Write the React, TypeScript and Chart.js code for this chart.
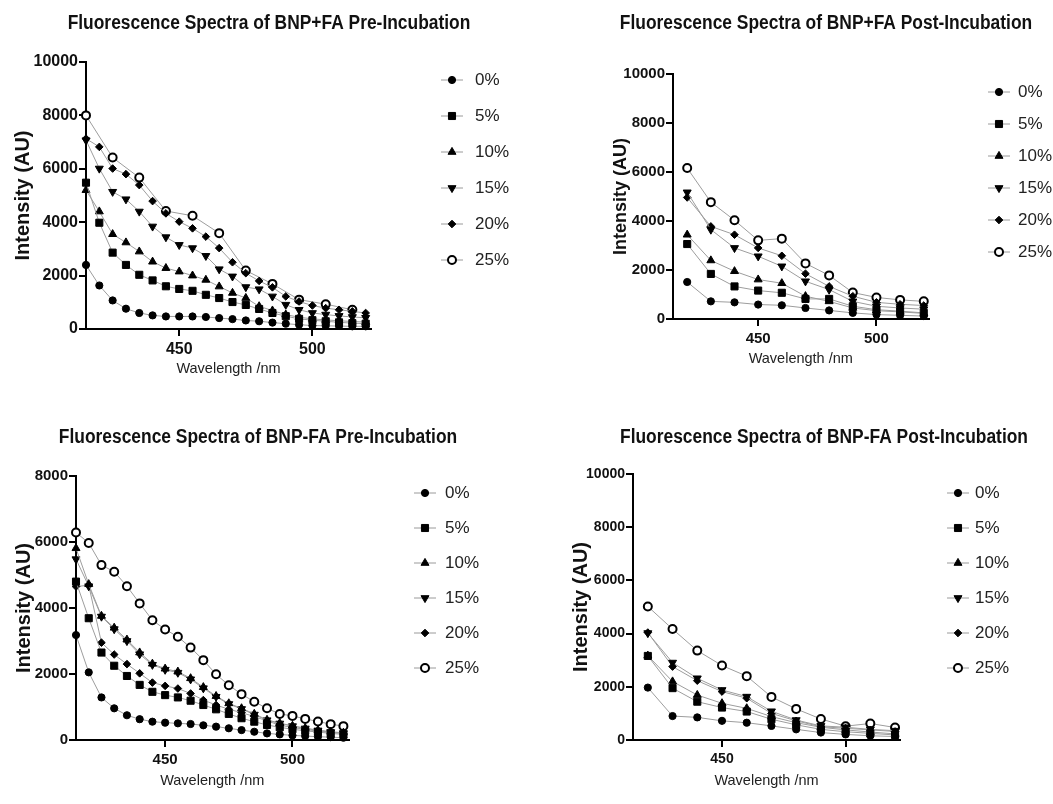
import React, { useEffect, useRef } from 'react';
import { Chart, registerables } from 'chart.js';
import { drawPoint } from 'chart.js/helpers';

Chart.register(...registerables);

const FONT = '"Liberation Sans", Arial, Helvetica, sans-serif';

// ---------- data ----------
const seriesLabels = ['0%', '5%', '10%', '15%', '20%', '25%'];
const xTicks = [450, 500];

// wavelength grids (nm)
const wl5 = [415, 420, 425, 430, 435, 440, 445, 450, 455, 460, 465, 470, 475, 480, 485, 490, 495, 500, 505, 510, 515, 520];
const wl10odd = [415, 425, 435, 445, 455, 465, 475, 485, 495, 505, 515];
const wl10 = [420, 430, 440, 450, 460, 470, 480, 490, 500, 510, 520];

// Panel 1: BNP+FA Pre-Incubation
const p1_0 = [2400, 1630, 1070, 760, 600, 510, 470, 470, 470, 450, 410, 370, 320, 290, 240, 200, 160, 130, 120, 110, 100, 100];
const p1_5 = [5480, 3980, 2860, 2400, 2030, 1820, 1600, 1500, 1430, 1280, 1160, 1010, 900, 750, 600, 480, 380, 330, 290, 250, 220, 200];
const p1_10 = [5200, 4400, 3550, 3240, 2900, 2520, 2280, 2150, 2000, 1840, 1590, 1350, 1160, 850, 690, 540, 440, 380, 340, 310, 280, 260];
const p1_15 = [7070, 6010, 5140, 4860, 4400, 3840, 3440, 3150, 3030, 2740, 2240, 1970, 1570, 1490, 1220, 910, 720, 600, 540, 490, 450, 420];
const p1_20 = [7130, 6820, 6010, 5800, 5390, 4790, 4330, 4020, 3770, 3460, 3030, 2500, 2090, 1800, 1560, 1220, 1030, 880, 780, 720, 660, 600];
const p1_25 = [8000, 6420, 5670, 4420, 4240, 3590, 2190, 1690, 1100, 930, 720];

// Panel 2: BNP+FA Post-Incubation
const p2_0 = [1510, 720, 680, 590, 560, 450, 350, 250, 180, 150, 120];
const p2_5 = [3060, 1840, 1330, 1160, 1070, 820, 820, 520, 380, 320, 250];
const p2_10 = [3440, 2390, 1950, 1610, 1460, 930, 720, 450, 340, 290, 230];
const p2_15 = [5170, 3650, 2900, 2560, 2150, 1540, 1200, 720, 520, 450, 400];
const p2_20 = [4960, 3780, 3440, 2900, 2580, 1850, 1330, 930, 680, 600, 550];
const p2_25 = [6160, 4770, 4030, 3210, 3280, 2270, 1780, 1080, 880, 780, 720];

// Panel 3: BNP-FA Pre-Incubation
const p3_0 = [3180, 2050, 1290, 960, 750, 630, 555, 525, 505, 485, 445, 405, 355, 300, 250, 200, 170, 140, 120, 100, 85, 70];
const p3_5 = [4800, 3690, 2650, 2250, 1940, 1670, 1460, 1360, 1290, 1190, 1060, 930, 790, 660, 555, 455, 385, 325, 280, 240, 200, 170];
const p3_10 = [5810, 4720, 3760, 3400, 3040, 2650, 2310, 2160, 2070, 1870, 1600, 1330, 1110, 960, 790, 610, 510, 430, 360, 300, 250, 220];
const p3_15 = [5480, 4660, 3740, 3360, 3000, 2600, 2280, 2130, 2040, 1840, 1570, 1310, 1090, 940, 770, 600, 500, 420, 350, 290, 240, 210];
const p3_20 = [4650, 4690, 2950, 2590, 2300, 2020, 1740, 1640, 1560, 1410, 1210, 1060, 930, 830, 710, 580, 450, 380, 320, 270, 230, 200];
const p3_25 = [6290, 5970, 5300, 5100, 4660, 4140, 3630, 3350, 3130, 2800, 2420, 1990, 1660, 1390, 1160, 960, 790, 730, 640, 560, 480, 420];

// Panel 4: BNP-FA Post-Incubation
const p4_0 = [1970, 900, 850, 720, 650, 530, 400, 280, 210, 160, 130];
const p4_5 = [3160, 1950, 1440, 1220, 1070, 780, 570, 400, 310, 250, 190];
const p4_10 = [3170, 2200, 1690, 1380, 1190, 880, 650, 480, 380, 300, 230];
const p4_15 = [4020, 2910, 2320, 1880, 1630, 1080, 750, 530, 480, 400, 350];
const p4_20 = [4040, 2760, 2230, 1820, 1570, 1000, 720, 500, 440, 380, 320];
const p4_25 = [5020, 4170, 3360, 2800, 2400, 1620, 1170, 790, 520, 620, 470];

// ---------- styles ----------
const markerStyles = [
  { pointStyle: 'circle', radius: 3.6, rotation: 0, fill: '#000', borderWidth: 1 },
  { pointStyle: 'rect', radius: 5, rotation: 0, fill: '#000', borderWidth: 1 },
  { pointStyle: 'triangle', radius: 4.6, rotation: 0, fill: '#000', borderWidth: 1 },
  { pointStyle: 'triangle', radius: 4.6, rotation: 180, fill: '#000', borderWidth: 1 },
  { pointStyle: 'rectRot', radius: 3.8, rotation: 0, fill: '#000', borderWidth: 1 },
  { pointStyle: 'circle', radius: 4, rotation: 0, fill: '#fff', borderWidth: 2 },
];

type Panel = {
  title: string;
  left: number; top: number; width: number; height: number;
  chartLeft: number; chartTop: number; chartRight: number; chartBottom: number;
  xMin: number; xMax: number; yMax: number;
  titleX: number; titleY: number; yTitleX: number; xTitleY: number;
  tickSize: number; yTitleSize: number;
  markerX: number; textX: number; legendY: number; legendGap: number;
  xs: number[][]; ys: number[][];
};

const panels: Panel[] = [
  {
    title: 'Fluorescence Spectra of BNP+FA Pre-Incubation',
    left: 0, top: 0, width: 530, height: 385,
    chartLeft: 86, chartTop: 62, chartRight: 371, chartBottom: 329,
    xMin: 415, xMax: 522, yMax: 10000,
    titleX: 269, titleY: 23, yTitleX: 23, xTitleY: 369,
    tickSize: 16, yTitleSize: 20,
    markerX: 452, textX: 475, legendY: 80, legendGap: 36,
    xs: [wl5, wl5, wl5, wl5, wl5, wl10odd],
    ys: [p1_0, p1_5, p1_10, p1_15, p1_20, p1_25],
  },
  {
    title: 'Fluorescence Spectra of BNP+FA Post-Incubation',
    left: 560, top: 0, width: 492, height: 380,
    chartLeft: 673, chartTop: 74, chartRight: 928.5, chartBottom: 319,
    xMin: 414, xMax: 522, yMax: 10000,
    titleX: 826, titleY: 23, yTitleX: 621, xTitleY: 359,
    tickSize: 15, yTitleSize: 18,
    markerX: 999, textX: 1018, legendY: 92, legendGap: 32,
    xs: [wl10, wl10, wl10, wl10, wl10, wl10],
    ys: [p2_0, p2_5, p2_10, p2_15, p2_20, p2_25],
  },
  {
    title: 'Fluorescence Spectra of BNP-FA Pre-Incubation',
    left: 0, top: 405, width: 530, height: 399,
    chartLeft: 76, chartTop: 476, chartRight: 348.5, chartBottom: 740,
    xMin: 415, xMax: 522, yMax: 8000,
    titleX: 258, titleY: 437, yTitleX: 24, xTitleY: 781,
    tickSize: 15, yTitleSize: 20,
    markerX: 425, textX: 445, legendY: 493, legendGap: 35,
    xs: [wl5, wl5, wl5, wl5, wl5, wl5],
    ys: [p3_0, p3_5, p3_10, p3_15, p3_20, p3_25],
  },
  {
    title: 'Fluorescence Spectra of BNP-FA Post-Incubation',
    left: 560, top: 405, width: 492, height: 399,
    chartLeft: 633, chartTop: 474, chartRight: 900, chartBottom: 740,
    xMin: 414, xMax: 522, yMax: 10000,
    titleX: 824, titleY: 437, yTitleX: 581, xTitleY: 781,
    tickSize: 14, yTitleSize: 20,
    markerX: 958, textX: 975, legendY: 493, legendGap: 35,
    xs: [wl10, wl10, wl10, wl10, wl10, wl10],
    ys: [p4_0, p4_5, p4_10, p4_15, p4_20, p4_25],
  },
];

const TITLE_SQUEEZE = 0.87;

const overlayPlugin = {
  id: 'overlay',
  afterDraw(chart: any, _args: any, opts: any) {
    const ctx = chart.ctx as CanvasRenderingContext2D;
    ctx.save();
    ctx.font = 'bold 20px ' + FONT;
    ctx.fillStyle = '#111';
    ctx.textAlign = 'center';
    ctx.textBaseline = 'middle';
    ctx.translate(opts.titleX, opts.titleY);
    ctx.scale(TITLE_SQUEEZE, 1);
    ctx.fillText(opts.title, 0, 0);
    ctx.restore();

    ctx.save();
    chart.data.datasets.forEach((ds: any, i: number) => {
      const st = markerStyles[i];
      const y = opts.legendY + i * opts.legendGap;
      ctx.strokeStyle = '#9a9a9a';
      ctx.lineWidth = 1;
      ctx.beginPath();
      ctx.moveTo(opts.markerX - 11, y);
      ctx.lineTo(opts.markerX + 11, y);
      ctx.stroke();
      ctx.fillStyle = st.fill;
      ctx.strokeStyle = '#000';
      ctx.lineWidth = st.borderWidth;
      drawPoint(ctx, { pointStyle: st.pointStyle, radius: st.radius, rotation: st.rotation, borderWidth: st.borderWidth } as any, opts.markerX, y);
      ctx.fillStyle = '#222';
      ctx.font = '17px ' + FONT;
      ctx.textAlign = 'left';
      ctx.textBaseline = 'middle';
      ctx.fillText(ds.label, opts.textX, y);
    });
    ctx.restore();
  },
};

function PanelChart({ p }: { p: Panel }) {
  const ref = useRef<HTMLCanvasElement>(null);
  useEffect(() => {
    if (!ref.current) return;
    const yAxisW = p.chartLeft - p.left;
    const xAxisH = p.top + p.height - p.chartBottom;
    const padTop = p.chartTop - p.top;
    const padRight = p.left + p.width - p.chartRight;
    const xTitleSize = 14.5;
    const datasets = seriesLabels.map((label, i) => {
      const st = markerStyles[i];
      return {
        label,
        data: p.xs[i].map((x, j) => ({ x, y: p.ys[i][j] })),
        borderColor: '#9d9d9d',
        borderWidth: 1,
        pointStyle: st.pointStyle,
        pointRadius: st.radius,
        pointRotation: st.rotation,
        pointBackgroundColor: st.fill,
        pointBorderColor: '#000',
        pointBorderWidth: st.borderWidth,
        fill: false,
        tension: 0,
        clip: false,
      };
    });
    const chart = new Chart(ref.current, {
      type: 'line',
      data: { datasets } as any,
      plugins: [overlayPlugin as any],
      options: {
        animation: false,
        responsive: false,
        devicePixelRatio: 1,
        layout: { padding: { top: padTop, right: padRight, bottom: 0, left: 0 } },
        plugins: {
          legend: { display: false },
          title: { display: false },
          tooltip: { enabled: false },
          overlay: {
            title: p.title,
            titleX: p.titleX - p.left,
            titleY: p.titleY - p.top,
            markerX: p.markerX - p.left,
            textX: p.textX - p.left,
            legendY: p.legendY - p.top,
            legendGap: p.legendGap,
          },
        } as any,
        scales: {
          x: {
            type: 'linear',
            min: p.xMin,
            max: p.xMax,
            afterBuildTicks: (axis: any) => {
              axis.ticks = xTicks.map((v) => ({ value: v }));
            },
            afterFit: (scale: any) => {
              scale.height = xAxisH;
            },
            grid: { drawOnChartArea: false, drawTicks: true, tickLength: 7, color: '#000', lineWidth: 2 },
            border: { display: true, color: '#000', width: 2 },
            ticks: {
              color: '#111',
              padding: 4,
              maxRotation: 0,
              autoSkip: false,
              font: { family: FONT, size: p.tickSize, weight: 'bold' },
            },
            title: {
              display: true,
              text: 'Wavelength /nm',
              color: '#222',
              font: { family: FONT, size: xTitleSize, weight: 'normal', lineHeight: 1.2 },
              padding: { top: 0, bottom: p.top + p.height - p.xTitleY - (xTitleSize * 1.2) / 2 },
            },
          },
          y: {
            type: 'linear',
            min: 0,
            max: p.yMax,
            afterFit: (scale: any) => {
              scale.width = yAxisW;
            },
            grid: { drawOnChartArea: false, drawTicks: true, tickLength: 7, color: '#000', lineWidth: 2 },
            border: { display: true, color: '#000', width: 2 },
            ticks: {
              stepSize: 2000,
              color: '#111',
              padding: 1,
              font: { family: FONT, size: p.tickSize, weight: 'bold' },
              callback: (v: any) => String(v),
            },
            title: {
              display: true,
              text: 'Intensity (AU)',
              color: '#111',
              font: { family: FONT, size: p.yTitleSize, weight: 'bold', lineHeight: 1.2 },
              padding: { top: p.yTitleX - p.left - (p.yTitleSize * 1.2) / 2, bottom: 0 },
            },
          },
        },
      } as any,
    });
    return () => chart.destroy();
  }, [p]);
  return (
    <canvas
      ref={ref}
      width={p.width}
      height={p.height}
      style={{ position: 'absolute', left: p.left, top: p.top, width: p.width, height: p.height }}
    />
  );
}

export default function App() {
  return (
    <div style={{ position: 'absolute', left: 0, top: 0, width: 1053, height: 804, background: '#fff', overflow: 'hidden' }}>
      {panels.map((p, i) => (
        <PanelChart key={i} p={p} />
      ))}
    </div>
  );
}
